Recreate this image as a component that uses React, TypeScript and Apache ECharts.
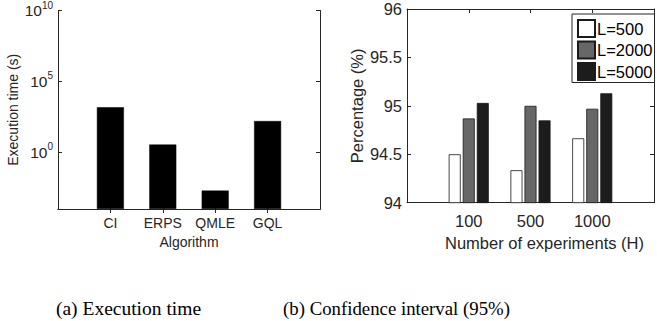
import React, { useEffect, useRef } from 'react';
import * as echarts from 'echarts';

// ---- data ----
const algorithms = ['CI', 'ERPS', 'QMLE', 'GQL'];
const execTimes = [1500, 3.5, 0.002, 160]; // seconds (log scale)
const logTickExponents = [0, 5, 10];
const logMinExponent = -4;
const logMaxExponent = 10;

const experimentLabels = ['100', '500', '1000'];
const pctL500 = [94.5, 94.335, 94.665];
const pctL2000 = [94.87, 95.0, 94.97];
const pctL5000 = [95.03, 94.85, 95.13];
const seriesNames = ['L=500', 'L=2000', 'L=5000'];

const SANS = 'Liberation Sans, Arial, Helvetica, sans-serif';
const SERIF = 'Liberation Serif, Times New Roman, serif';
const AX = '#262626';

function pad<T>(arr: T[], filler: T): T[] {
  return [filler, ...arr, filler];
}

function buildOption() {
  const algCats = pad(algorithms, '');
  const expCats = pad(experimentLabels, '');
  const heights = execTimes.map((v) => Math.log10(v) - logMinExponent);
  const tickPos = logTickExponents.map((e) => e - logMinExponent);
  const inner = (n: number) => (i: number) => i > 0 && i < n - 1;

  const xBase = (
    gridIndex: number,
    data: string[],
    fs: number,
    margin: number,
    name: string,
    nameGap: number,
    namePad: number[],
  ) => ({
    gridIndex,
    type: 'category',
    data,
    boundaryGap: false,
    position: 'bottom',
    axisLine: { show: true, lineStyle: { color: AX, width: 1 } },
    axisTick: { show: true, inside: true, length: 4, interval: inner(data.length), lineStyle: { color: AX } },
    axisLabel: { interval: 0, fontSize: fs, fontFamily: SANS, color: AX, margin },
    splitLine: { show: false },
    name,
    nameLocation: 'middle',
    nameGap,
    nameTextStyle: { fontSize: fs, fontFamily: SANS, color: AX, padding: namePad },
  });
  const xTop = (gridIndex: number, data: string[]) => ({
    gridIndex,
    type: 'category',
    data,
    boundaryGap: false,
    position: 'top',
    axisLine: { show: true, lineStyle: { color: AX, width: 1 } },
    axisTick: { show: true, inside: true, length: 4, interval: inner(data.length), lineStyle: { color: AX } },
    axisLabel: { show: false },
    splitLine: { show: false },
  });

  return {
    animation: false,
    backgroundColor: '#ffffff',
    grid: [
      { left: 58, right: 337, top: 9.5, bottom: 112 },
      { left: 407, right: -4, top: 9, bottom: 118.3 },
    ],
    legend: {
      orient: 'vertical',
      left: 572,
      top: 14,
      itemWidth: 17,
      itemHeight: 17,
      itemGap: 2.5,
      padding: [5, 2, 1.5, 5],
      borderColor: AX,
      borderWidth: 1,
      borderRadius: 0,
      backgroundColor: '#ffffff',
      icon: 'rect',
      textStyle: { fontSize: 16.5, fontFamily: SANS, color: '#000', padding: [0, 0, 0, -3] },
      data: seriesNames,
    },
    xAxis: [
      xBase(0, algCats, 14, 7, 'Algorithm', 24, [0, 0, 0, 0]),
      xTop(0, algCats),
      xBase(1, expCats, 16.5, 10, 'Number of experiments (H)', 31, [0, 0, 0, 28]),
      xTop(1, expCats),
    ],
    yAxis: [
      {
        gridIndex: 0,
        type: 'value',
        min: 0,
        max: logMaxExponent - logMinExponent,
        axisLine: { show: true, lineStyle: { color: AX, width: 1 } },
        axisTick: { show: true, inside: true, length: 4, customValues: tickPos, lineStyle: { color: AX } },
        axisLabel: {
          customValues: tickPos,
          margin: 5,
          fontSize: 15.5,
          fontFamily: SANS,
          color: AX,
          formatter: (v: number) => `{b|10}{s|${Math.round(v + logMinExponent)}}`,
          rich: {
            b: { fontSize: 15.5, fontFamily: SANS, color: AX, lineHeight: 21 },
            s: { fontSize: 10, fontFamily: SANS, color: AX, lineHeight: 10, verticalAlign: 'top' },
          },
        },
        splitLine: { show: false },
        name: 'Execution time (s)',
        nameLocation: 'middle',
        nameRotate: 90,
        nameGap: 38,
        nameTextStyle: { fontSize: 14, fontFamily: SANS, color: AX },
      },
      {
        gridIndex: 0,
        type: 'value',
        position: 'right',
        min: 0,
        max: logMaxExponent - logMinExponent,
        axisLine: { show: true, lineStyle: { color: AX, width: 1 } },
        axisTick: { show: true, inside: true, length: 4, customValues: tickPos, lineStyle: { color: AX } },
        axisLabel: { show: false },
        splitLine: { show: false },
      },
      {
        gridIndex: 1,
        type: 'value',
        min: 94,
        max: 96,
        interval: 0.5,
        axisLine: { show: true, lineStyle: { color: AX, width: 1 } },
        axisTick: { show: true, inside: true, length: 4, lineStyle: { color: AX } },
        axisLabel: { fontSize: 16.5, fontFamily: SANS, color: AX, margin: 5 },
        splitLine: { show: false },
        name: 'Percentage (%)',
        nameLocation: 'middle',
        nameRotate: 90,
        nameGap: 41,
        nameTextStyle: { fontSize: 16.5, fontFamily: SANS, color: AX },
      },
      {
        gridIndex: 1,
        type: 'value',
        position: 'right',
        min: 94,
        max: 96,
        interval: 0.5,
        axisLine: { show: true, lineStyle: { color: AX, width: 1 } },
        axisTick: { show: true, inside: true, length: 4, lineStyle: { color: AX } },
        axisLabel: { show: false },
        splitLine: { show: false },
      },
    ],
    series: [
      {
        type: 'bar',
        name: 'exec',
        xAxisIndex: 0,
        yAxisIndex: 0,
        data: pad(heights as (number | string)[], '-'),
        barWidth: 27,
        itemStyle: { color: '#000000', borderColor: '#000000', borderWidth: 0.5 },
      },
      {
        type: 'bar',
        name: seriesNames[0],
        xAxisIndex: 2,
        yAxisIndex: 2,
        data: pad(pctL500 as (number | string)[], '-'),
        barWidth: 12,
        barGap: '17%',
        clip: true,
        itemStyle: { color: '#ffffff', borderColor: '#1a1a1a', borderWidth: 0.8 },
      },
      {
        type: 'bar',
        name: seriesNames[1],
        xAxisIndex: 2,
        yAxisIndex: 2,
        data: pad(pctL2000 as (number | string)[], '-'),
        barWidth: 12,
        barGap: '17%',
        clip: true,
        itemStyle: { color: '#676767', borderColor: '#1a1a1a', borderWidth: 0.8 },
      },
      {
        type: 'bar',
        name: seriesNames[2],
        xAxisIndex: 2,
        yAxisIndex: 2,
        data: pad(pctL5000 as (number | string)[], '-'),
        barWidth: 12,
        barGap: '17%',
        clip: true,
        itemStyle: { color: '#1c1c1c', borderColor: '#1a1a1a', borderWidth: 0.8 },
      },
    ],
    graphic: [
      {
        type: 'text',
        x: 128.5,
        y: 308,
        style: {
          text: '(a) Execution time',
          fontSize: 19.5,
          fontFamily: SERIF,
          fill: '#000',
          align: 'center',
          verticalAlign: 'middle',
        },
      },
      {
        type: 'text',
        x: 396.5,
        y: 308,
        style: {
          text: '(b) Confidence interval (95%)',
          fontSize: 18.8,
          fontFamily: SERIF,
          fill: '#000',
          align: 'center',
          verticalAlign: 'middle',
        },
      },
    ],
  };
}

export default function App() {
  const ref = useRef<HTMLDivElement>(null);
  useEffect(() => {
    if (!ref.current) return;
    const chart = echarts.init(ref.current, null, { renderer: 'svg' });
    chart.setOption(buildOption() as any);
    return () => chart.dispose();
  }, []);
  return (
    <div
      ref={ref}
      style={{ position: 'fixed', left: 0, top: 0, width: 657, height: 321, background: '#fff' }}
    />
  );
}
